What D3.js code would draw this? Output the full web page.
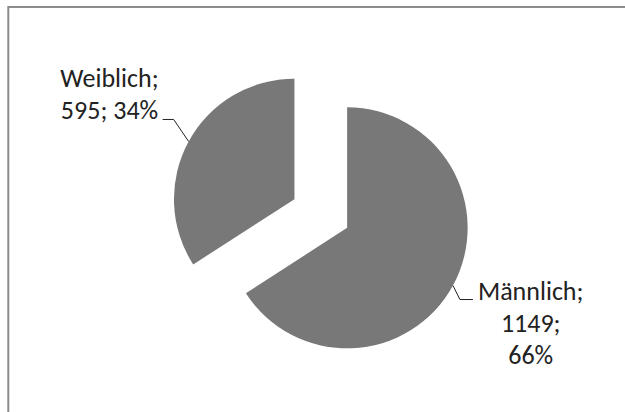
<!DOCTYPE html>
<html>
<head>
<meta charset="utf-8">
<script src="https://cdn.jsdelivr.net/npm/d3@7"></script>
<style>
  html, body { margin: 0; padding: 0; background: #fff; }
  svg { display: block; }
</style>
</head>
<body>
<div id="chart"></div>
<script>
// data
const categories = ["Männlich", "Weiblich"];
const values = [1149, 595];

const width = 625, height = 412;
const cx = 320.8, cy = 213.5;   // pie centre before explosion
const radius = 120.5;
const explode = 30;
const fontFamily = "Carlito, 'Open Sans', sans-serif";
const fontSize = 26;
const lineHeight = 32;

// label layout per slice: elbow offset from arc point, then horizontal leader
const labelLayout = {
  "Männlich": { elbow: [7, 14], run: 13, side: 1, firstLine: 0 },
  "Weiblich": { elbow: [-15, -22], run: -11, side: -1, firstLine: -1 }
};

const data = categories.map((c, i) => ({ key: c, value: values[i] }));
const total = d3.sum(values);

const svg = d3.select("#chart").append("svg")
  .attr("width", width)
  .attr("height", height)
  .attr("font-family", fontFamily);

// chart frame (only left and top edges are inside the picture)
svg.append("rect")
  .attr("x", 8.3).attr("y", 7)
  .attr("width", 800).attr("height", 600)
  .attr("fill", "none")
  .attr("stroke", "#8c8c8c")
  .attr("stroke-width", 2);

const pie = d3.pie().sort(null).value(d => d.value);
const arcs = pie(data);
const arc = d3.arc().innerRadius(0).outerRadius(radius);

const mid = d => (d.startAngle + d.endAngle) / 2;
const shift = d => [Math.sin(mid(d)) * explode, -Math.cos(mid(d)) * explode];

const g = svg.append("g").attr("transform", `translate(${cx},${cy})`);

const slices = g.selectAll("g.slice")
  .data(arcs)
  .join("g")
  .attr("class", "slice")
  .attr("transform", d => `translate(${shift(d)})`);

slices.append("path")
  .attr("d", arc)
  .attr("fill", "#787878");

// labels with leader lines
slices.each(function (d) {
  const lay = labelLayout[d.data.key];
  const a = mid(d);
  const p = [Math.sin(a) * radius, -Math.cos(a) * radius];
  const e = [p[0] + lay.elbow[0], p[1] + lay.elbow[1]];
  const end = [e[0] + lay.run, e[1]];
  const sel = d3.select(this);

  sel.append("polyline")
    .attr("points", [p, e, end].map(q => q.join(",")).join(" "))
    .attr("fill", "none")
    .attr("stroke", "#222")
    .attr("stroke-width", 1);

  const pct = Math.round(d.data.value / total * 100) + "%";
  const lines = lay.side > 0
    ? [d.data.key + ";", d.data.value + ";", pct]
    : [d.data.key + ";", d.data.value + "; " + pct];

  const text = sel.append("text")
    .attr("font-size", fontSize)
    .attr("fill", "#222")
    .attr("text-anchor", "middle");

  // measure widest line to centre the block next to the leader end
  const tmp = text.append("tspan").text(lines[0]);
  const w = d3.max(lines, l => { tmp.text(l); return tmp.node().getComputedTextLength(); });
  tmp.remove();
  const tx = lay.side > 0 ? end[0] + 5 + w / 2 : end[0] - 4 - w / 2;

  text.selectAll("tspan")
    .data(lines)
    .join("tspan")
    .attr("x", tx)
    .attr("y", (l, i) => end[1] + (i + lay.firstLine) * lineHeight)
    .text(l => l);
});
</script>
</body>
</html>
